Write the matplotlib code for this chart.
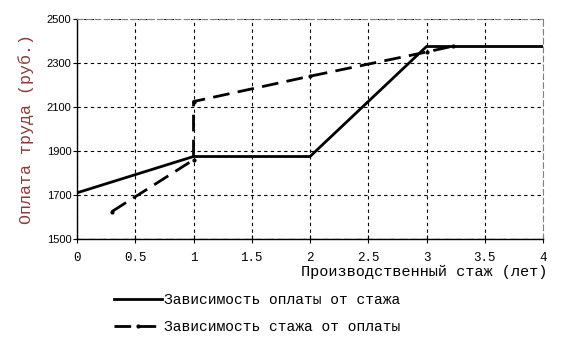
import matplotlib.pyplot as plt
from matplotlib.lines import Line2D

# solid: wage vs experience
exp_x = [0, 1, 2, 3, 4]
pay_y = [1710, 1875, 1875, 2375, 2375]

# dashed: experience vs wage
inv_x = [0.3, 1, 1, 2, 3, 3.23]
inv_y = [1625, 1860, 2125, 2240, 2350, 2377]

xticks = [0, 0.5, 1, 1.5, 2, 2.5, 3, 3.5, 4]
xtick_labels = ["0", "0.5", "1", "1.5", "2", "2.5", "3", "3.5", "4"]
yticks = [1500, 1700, 1900, 2100, 2300, 2500]

mono = "Liberation Mono"

fig = plt.figure(figsize=(5.63, 3.47), dpi=100)
ax = fig.add_axes([0.1368, 0.3112, 0.8277, 0.634])

ax.plot(exp_x, pay_y, color="black", lw=2.0, solid_joinstyle="miter")
ax.plot(inv_x, inv_y, color="black", lw=2.0, dashes=(6, 3),
        marker=".", markersize=4)

ax.set_xlim(0, 4)
ax.set_ylim(1500, 2500)
ax.set_xticks(xticks)
ax.set_xticklabels(xtick_labels, fontfamily=mono, fontsize=9)
ax.set_yticks(yticks)
ax.set_yticklabels([str(v) for v in yticks], fontfamily="Liberation Sans", fontsize=8)
ax.tick_params(axis="x", direction="inout", length=6, width=0.8, pad=6)
ax.tick_params(axis="y", direction="out", length=3, width=0.8, pad=1)

ax.grid(True, color="black", linestyle=(0, (3, 3)), linewidth=0.8)

ax.spines["left"].set_color("black")
ax.spines["bottom"].set_color("black")
for s in ["top", "right"]:
    ax.spines[s].set_color("#808080")
    ax.spines[s].set_linestyle((0, (5, 3)))
ax.spines["left"].set_linewidth(1.0)
ax.spines["bottom"].set_linewidth(1.0)
ax.axhline(1500, color="#808080", lw=1.0, linestyle=(0, (5, 3)), zorder=0)

ax.set_ylabel("Оплата труда (руб.)", fontfamily=mono, fontsize=12,
              color="#8b3a3a", labelpad=9)
fig.text(0.9716, 0.2363, "Производственный стаж (лет)", fontfamily=mono,
         fontsize=11, ha="right", va="top")

handles = [
    Line2D([], [], color="black", lw=2.0),
    Line2D([], [], color="black", lw=2.0, dashes=(6, 3), marker=".", markersize=4),
]
labels = ["Зависимость оплаты от стажа", "Зависимость стажа от оплаты"]
fig.legend(handles, labels, loc="upper left", bbox_to_anchor=(0.203, 0.155),
           frameon=False, handlelength=3.3, handletextpad=0.1,
           labelspacing=0.9, prop={"family": mono, "size": 10.5},
           borderaxespad=0, borderpad=0)

fig.savefig("out.png", dpi=100)
